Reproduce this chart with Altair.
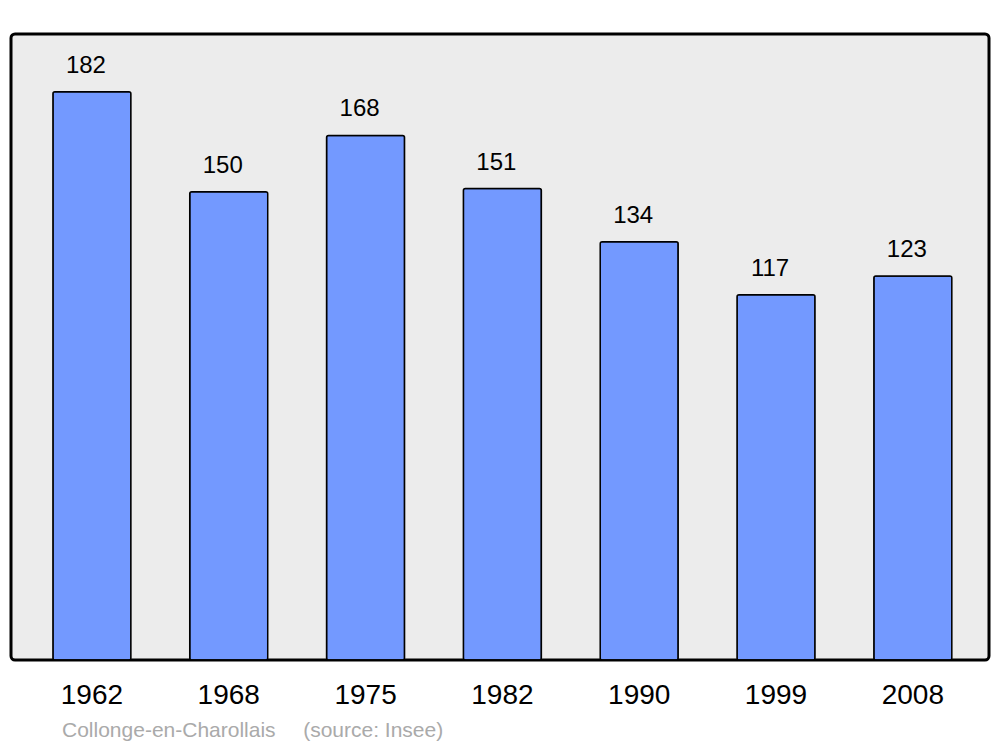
import altair as alt
import pandas as pd

years = ["1962", "1968", "1975", "1982", "1990", "1999", "2008"]
population = [182, 150, 168, 151, 134, 117, 123]
source_text = ["Collonge-en-Charollais\u00a0\u00a0\u00a0\u00a0\u2009(source: Insee)"]

df = pd.DataFrame({"year": years, "pop": population})

x = alt.X("year:N", sort=years, title=None,
          scale=alt.Scale(paddingInner=0.43, paddingOuter=0.289, align=0.53),
          axis=alt.Axis(labelAngle=0, labelFontSize=28, labelColor="black",
                        labelFont="Liberation Sans", labelPadding=21,
                        domain=False, ticks=False, grid=False))
y = alt.Y("pop:Q", title=None, scale=alt.Scale(domain=[0, 200.5], nice=False),
          axis=None)

bars = alt.Chart(df).mark_bar(
    fill="#7399ff", stroke="black", strokeWidth=1.5, cornerRadius=2
).encode(x=x, y=y)

labels = alt.Chart(df).mark_text(
    font="Liberation Sans", fontSize=24, color="black",
    baseline="alphabetic", dy=-19, dx=-6
).encode(x=x, y=y, text="pop:Q")

src = alt.Chart(pd.DataFrame({"t": source_text})).mark_text(
    font="Liberation Sans", fontSize=21, color="#aaaaaa",
    align="left", baseline="alphabetic"
).encode(x=alt.value(51), y=alt.value(703), text="t:N")

chart = alt.layer(bars, labels, src).properties(
    width=978, height=626,
    padding={"left": 3, "top": 26, "right": 3, "bottom": 84},
    autosize=alt.AutoSizeParams(type="none"),
    background="white",
).configure_view(
    fill="#ececec", stroke="black", strokeWidth=3, cornerRadius=4
)

chart.save("out.html", embed_options={"renderer": "svg", "actions": False})
